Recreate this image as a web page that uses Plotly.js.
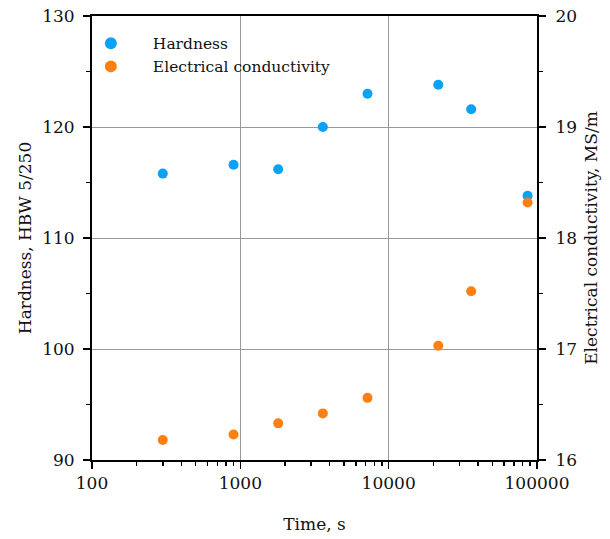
<!DOCTYPE html>
<html><head><meta charset="utf-8">
<script src="https://cdn.plot.ly/plotly-3.0.1.min.js"></script>
<style>html,body{margin:0;padding:0;background:#fff}#chart{width:610px;height:539px}</style>
</head><body><div id="chart"></div>
<script>
const time = [300, 900, 1800, 3600, 7200, 21600, 36000, 86400];
const hardness = [115.8, 116.6, 116.2, 120.0, 123.0, 123.8, 121.6, 113.8];
const conductivity = [16.18, 16.23, 16.33, 16.42, 16.56, 17.03, 17.52, 18.32];
const xTicks = [100, 1000, 10000, 100000];
const xTickText = ['100', '1000', '10000', '100000'];

const FONT = 'DejaVu Serif, Liberation Serif, serif';
const traces = [
  {x: time, y: hardness, name: 'Hardness', type: 'scatter', mode: 'markers',
   marker: {color: '#0aa2f5', size: 10}, yaxis: 'y'},
  {x: time, y: conductivity, name: 'Electrical conductivity', type: 'scatter', mode: 'markers',
   marker: {color: '#ff8012', size: 10}, yaxis: 'y2'}
];
const axisCommon = {
  showline: true, linecolor: '#000', linewidth: 2, ticks: 'outside', ticklen: 7, tickwidth: 1.5,
  tickcolor: '#000', zeroline: false, tickfont: {family: FONT, size: 17, color: '#111'}
};
const layout = {
  width: 610, height: 539,
  margin: {l: 92, r: 73, t: 16, b: 79},
  paper_bgcolor: '#fff', plot_bgcolor: '#fff',
  font: {family: FONT, color: '#111'},
  showlegend: true,
  legend: {x: -0.052, y: 0.976, xanchor: 'left', yanchor: 'top', bgcolor: 'rgba(255,255,255,0)', itemwidth: 74,
           font: {family: FONT, size: 15.5, color: '#111'}, itemsizing: 'constant', tracegroupgap: 0},
  shapes: [
    {type: 'rect', xref: 'paper', yref: 'paper', x0: 0.02, x1: 0.55, y0: 0.86, y1: 0.993,
     fillcolor: '#fff', line: {width: 0}, layer: 'between'}
  ],
  xaxis: Object.assign({}, axisCommon, {
    type: 'log', range: [2, 5], tickvals: xTicks, ticktext: xTickText,
    showgrid: true, gridcolor: '#999', gridwidth: 1, mirror: true,
    minor: {ticks: 'outside', ticklen: 4, tickcolor: '#000', dtick: 'D1', showgrid: false},
    title: {text: 'Time, s', font: {family: FONT, size: 17, color: '#111'}, standoff: 26}
  }),
  yaxis: Object.assign({}, axisCommon, {
    range: [90, 130], dtick: 10, showgrid: true, gridcolor: '#999', gridwidth: 1,
    ticklabelstandoff: 5,
    minor: {ticks: 'outside', ticklen: 4, tickcolor: '#000', dtick: 5, showgrid: false},
    title: {text: 'Hardness, HBW 5/250', font: {family: FONT, size: 17, color: '#111'}, standoff: 6}
  }),
  yaxis2: Object.assign({}, axisCommon, {
    overlaying: 'y', side: 'right', range: [16, 20], dtick: 1, showgrid: false,
    ticklabelstandoff: 6,
    minor: {ticks: 'outside', ticklen: 4, tickcolor: '#000', dtick: 0.5, showgrid: false},
    title: {text: 'Electrical conductivity, MS/m', font: {family: FONT, size: 17, color: '#111'}, standoff: 9}
  })
};
Plotly.newPlot('chart', traces, layout, {displayModeBar: false, staticPlot: true});
</script></body></html>
